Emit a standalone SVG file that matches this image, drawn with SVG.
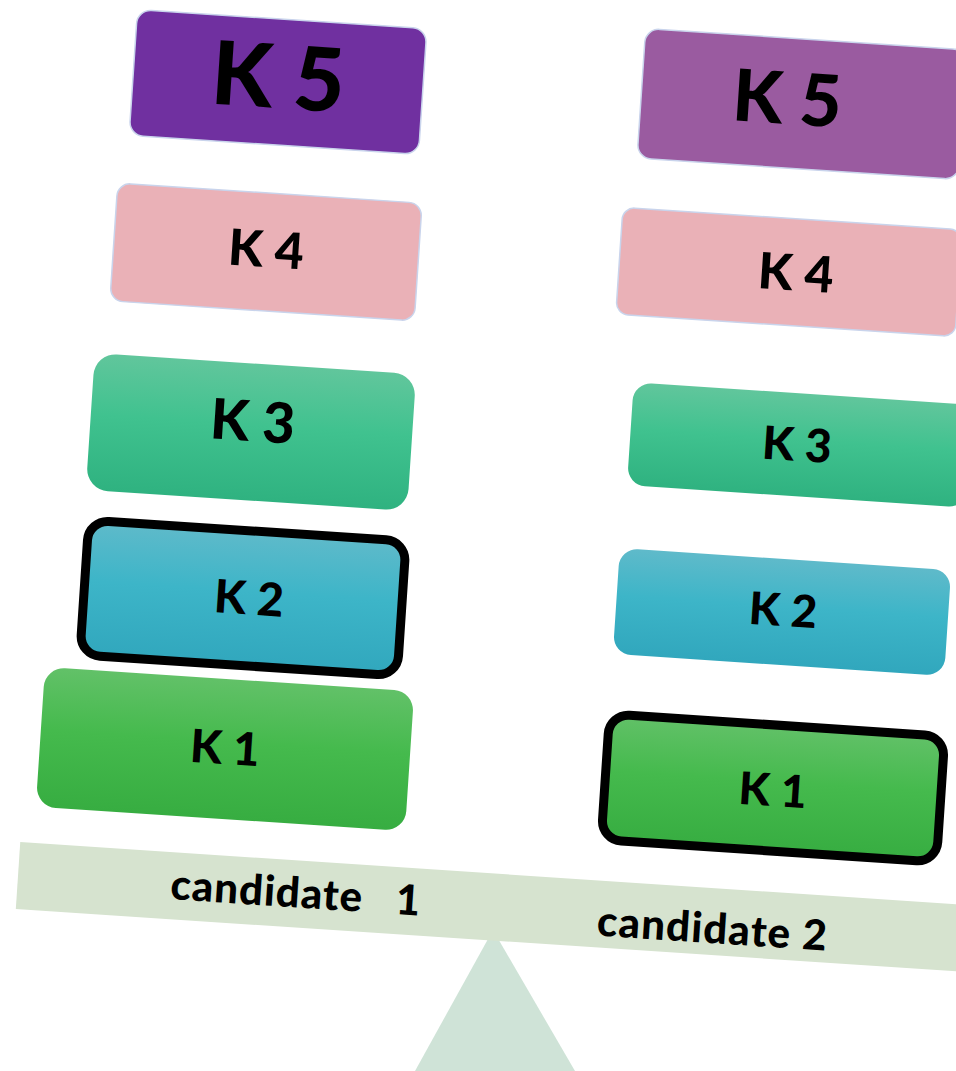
<svg xmlns="http://www.w3.org/2000/svg" width="956" height="1071" viewBox="0 0 956 1071">
  <defs>
    <linearGradient id="gTeal" x1="0" y1="0" x2="0" y2="1">
      <stop offset="0" stop-color="#61C69C"/>
      <stop offset="0.45" stop-color="#40C28F"/>
      <stop offset="1" stop-color="#2FB280"/>
    </linearGradient>
    <linearGradient id="gBlue" x1="0" y1="0" x2="0" y2="1">
      <stop offset="0" stop-color="#5FBACA"/>
      <stop offset="0.45" stop-color="#3DB5C8"/>
      <stop offset="1" stop-color="#31A7BD"/>
    </linearGradient>
    <linearGradient id="gGreen" x1="0" y1="0" x2="0" y2="1">
      <stop offset="0" stop-color="#62C168"/>
      <stop offset="0.45" stop-color="#45BA4D"/>
      <stop offset="1" stop-color="#37AD41"/>
    </linearGradient>
    <style>
      .box { stroke: #C9D4EC; stroke-width: 1.5; }
      .sel { stroke: #000000; stroke-width: 9; }
      .lbl { font-family: Lato, "Open Sans", "Liberation Sans", sans-serif; font-weight: 900; fill: #000000; text-anchor: middle; }
      .cand { font-family: Lato, "Open Sans", "Liberation Sans", sans-serif; font-weight: 900; fill: #000000; font-size: 42px; text-anchor: middle; }
    </style>
  </defs>

  <!-- fulcrum -->
  <polygon id="fulcrum" points="493,930 415,1071 575,1071" fill="#CFE3D7"/>

  <!-- beam -->
  <g id="beam" transform="rotate(3.8 18 876)">
    <rect x="18" y="842" width="1020" height="67" fill="#D6E3CF"/>
    <text class="cand" x="296" y="889" textLength="250" lengthAdjust="spacing" xml:space="preserve">candidate   1</text>
    <text class="cand" x="714" y="897" textLength="230" lengthAdjust="spacing">candidate 2</text>
  </g>

  <!-- candidate 1 stack -->
  <g id="c1-k5" transform="rotate(3.8 278 82)">
    <rect class="box" x="133" y="19" width="290" height="126" rx="14" fill="#7030A0"/>
    <text class="lbl" x="278" y="108" font-size="88">K 5</text>
  </g>
  <g id="c1-k4" transform="rotate(3.8 266 252)">
    <rect class="box" x="113.5" y="193" width="305" height="118" rx="13" fill="#EAB1B7"/>
    <text class="lbl" x="266" y="267" font-size="50">K 4</text>
  </g>
  <g id="c1-k3" transform="rotate(3.8 251 432)">
    <rect x="90" y="363.5" width="322" height="137" rx="22" fill="url(#gTeal)"/>
    <text class="lbl" x="252" y="441" font-size="56">K 3</text>
  </g>
  <g id="c1-k2" transform="rotate(3.8 243 598)">
    <rect class="sel" x="84" y="530.5" width="318" height="135" rx="20" fill="url(#gBlue)"/>
    <text class="lbl" x="249" y="614" font-size="46">K 2</text>
  </g>
  <g id="c1-k1" transform="rotate(3.8 225 749)">
    <rect x="40" y="679" width="370" height="140" rx="20" fill="url(#gGreen)"/>
    <text class="lbl" x="225" y="764" font-size="46">K 1</text>
  </g>

  <!-- candidate 2 stack -->
  <g id="c2-k5" transform="rotate(3.8 802 104)">
    <rect class="box" x="641" y="39" width="322" height="130" rx="14" fill="#9A5BA0"/>
    <text class="lbl" x="787" y="125" font-size="72">K 5</text>
  </g>
  <g id="c2-k4" transform="rotate(3.8 789 272)">
    <rect class="box" x="619" y="218.5" width="340" height="107" rx="12" fill="#EAB1B7"/>
    <text class="lbl" x="796" y="290" font-size="50">K 4</text>
  </g>
  <g id="c2-k3" transform="rotate(3.8 800 445)">
    <rect x="630" y="393.5" width="340" height="103" rx="18" fill="url(#gTeal)"/>
    <text class="lbl" x="797" y="461" font-size="46">K 3</text>
  </g>
  <g id="c2-k2" transform="rotate(3.8 782 612)">
    <rect x="616" y="559" width="332" height="106" rx="18" fill="url(#gBlue)"/>
    <text class="lbl" x="783" y="626" font-size="45">K 2</text>
  </g>
  <g id="c2-k1" transform="rotate(3.8 773 788)">
    <rect class="sel" x="605" y="725" width="336" height="126" rx="20" fill="url(#gGreen)"/>
    <text class="lbl" x="773" y="806" font-size="45">K 1</text>
  </g>
</svg>
